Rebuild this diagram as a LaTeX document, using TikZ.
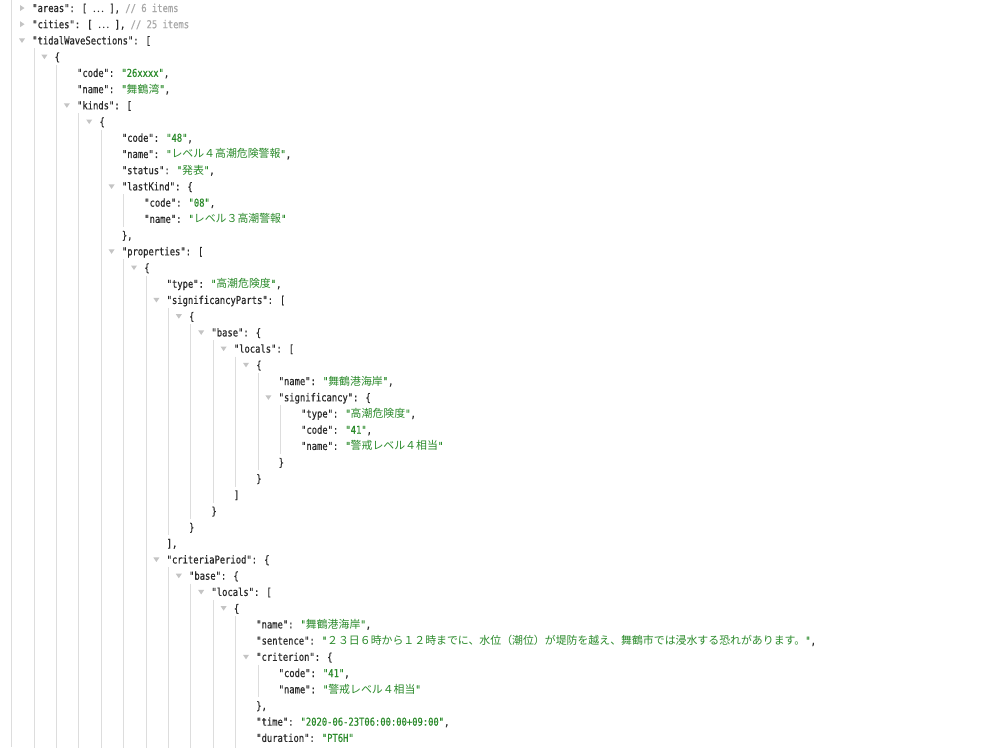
\documentclass[tikz,border=0pt]{standalone}
\usepackage{fontspec}
\newfontfamily\codefont[FakeStretch=0.81,FakeBold=0.5]{DejaVu Sans Mono}
\newfontfamily\cjk{Noto Sans CJK JP}
\definecolor{keyc}{HTML}{2A2A2A}
\definecolor{strc}{HTML}{2A8A2A}
\definecolor{cmtc}{HTML}{A8A8A8}
\definecolor{guidec}{HTML}{DDDDDD}
\definecolor{tric}{HTML}{C4C4C4}
\newcommand\V[1]{\textcolor{strc}{#1}}
\newcommand\J[1]{{\cjk #1}}
\newcommand\Cm[1]{\textcolor{cmtc}{#1}}
\tikzset{
  jsonline/.style={anchor=base west, inner sep=0pt, outer sep=0pt, text=keyc,
    font=\codefont\fontsize{10.9}{13}\selectfont},
  guide/.style={draw=guidec, line width=1pt},
  tri/.style={fill=tric, draw=none},
}
\newcommand\Ln[3]{\node[jsonline] (l#1) at ({32.3+22.4*#2},{8+16.22*#1+4}) {#3};}
\newcommand\Op[2]{\fill[tri] ({22+22.4*#2-3},{8+16.22*#1-2}) -- ++(6,0) -- ++(-3,4.5) -- cycle;}
\newcommand\Cl[2]{\fill[tri] ({22+22.4*#2-2},{8+16.22*#1-3}) -- ++(0,6) -- ++(4.5,-3) -- cycle;}
\newcommand\Gd[3]{\draw[guide] ({11.7+22.4*#1},{8+16.22*#2+8}) -- ({11.7+22.4*#1},{8+16.22*#3-8});}
\begin{document}
\begin{tikzpicture}[x=1pt,y=-1pt]
\fill[white] (0,0) rectangle (1000,747);
\useasboundingbox (0,0) rectangle (1000,747);
\clip (0,0) rectangle (1000,747);
% guide lines
\draw[guide] (11.7,0) -- (11.7,747);
\Gd{1}{2}{47}
\Gd{2}{3}{47}
\Gd{3}{6}{47}
\Gd{4}{7}{47}
\Gd{5}{11}{14}
\Gd{5}{15}{47}
\Gd{6}{16}{47}
\Gd{7}{18}{33}
\Gd{8}{19}{32}
\Gd{9}{20}{31}
\Gd{10}{21}{30}
\Gd{11}{22}{29}
\Gd{12}{24}{28}
\Gd{7}{34}{47}
\Gd{8}{35}{47}
\Gd{9}{36}{47}
\Gd{10}{37}{47}
\Gd{11}{40}{43}
% toggles
\Cl{0}{0}
\Cl{1}{0}
\Op{2}{0}
\Op{3}{1}
\Op{6}{2}
\Op{7}{3}
\Op{11}{4}
\Op{15}{4}
\Op{16}{5}
\Op{18}{6}
\Op{19}{7}
\Op{20}{8}
\Op{21}{9}
\Op{22}{10}
\Op{24}{11}
\Op{34}{6}
\Op{35}{7}
\Op{36}{8}
\Op{37}{9}
\Op{40}{10}
% text lines
\Ln{0}{0}{"areas": [ \J{⋯} ], \Cm{// 6 items}}
\Ln{1}{0}{"cities": [ \J{⋯} ], \Cm{// 25 items}}
\Ln{2}{0}{"tidalWaveSections": [}
\Ln{3}{1}{\{}
\Ln{4}{2}{"code": \V{"26xxxx"},}
\Ln{5}{2}{"name": \V{"\J{舞鶴湾}"},}
\Ln{6}{2}{"kinds": [}
\Ln{7}{3}{\{}
\Ln{8}{4}{"code": \V{"48"},}
\Ln{9}{4}{"name": \V{"\J{レベル４高潮危険警報}"},}
\Ln{10}{4}{"status": \V{"\J{発表}"},}
\Ln{11}{4}{"lastKind": \{}
\Ln{12}{5}{"code": \V{"08"},}
\Ln{13}{5}{"name": \V{"\J{レベル３高潮警報}"}}
\Ln{14}{4}{\},}
\Ln{15}{4}{"properties": [}
\Ln{16}{5}{\{}
\Ln{17}{6}{"type": \V{"\J{高潮危険度}"},}
\Ln{18}{6}{"significancyParts": [}
\Ln{19}{7}{\{}
\Ln{20}{8}{"base": \{}
\Ln{21}{9}{"locals": [}
\Ln{22}{10}{\{}
\Ln{23}{11}{"name": \V{"\J{舞鶴港海岸}"},}
\Ln{24}{11}{"significancy": \{}
\Ln{25}{12}{"type": \V{"\J{高潮危険度}"},}
\Ln{26}{12}{"code": \V{"41"},}
\Ln{27}{12}{"name": \V{"\J{警戒レベル４相当}"}}
\Ln{28}{11}{\}}
\Ln{29}{10}{\}}
\Ln{30}{9}{]}
\Ln{31}{8}{\}}
\Ln{32}{7}{\}}
\Ln{33}{6}{],}
\Ln{34}{6}{"criteriaPeriod": \{}
\Ln{35}{7}{"base": \{}
\Ln{36}{8}{"locals": [}
\Ln{37}{9}{\{}
\Ln{38}{10}{"name": \V{"\J{舞鶴港海岸}"},}
\Ln{39}{10}{"sentence": \V{"\J{２３日６時から１２時までに、水位（潮位）が堤防を越え、舞鶴市では浸水する恐れがあります。}"},}
\Ln{40}{10}{"criterion": \{}
\Ln{41}{11}{"code": \V{"41"},}
\Ln{42}{11}{"name": \V{"\J{警戒レベル４相当}"}}
\Ln{43}{10}{\},}
\Ln{44}{10}{"time": \V{"2020-06-23T06:00:00+09:00"},}
\Ln{45}{10}{"duration": \V{"PT6H"}}
\end{tikzpicture}
\end{document}
